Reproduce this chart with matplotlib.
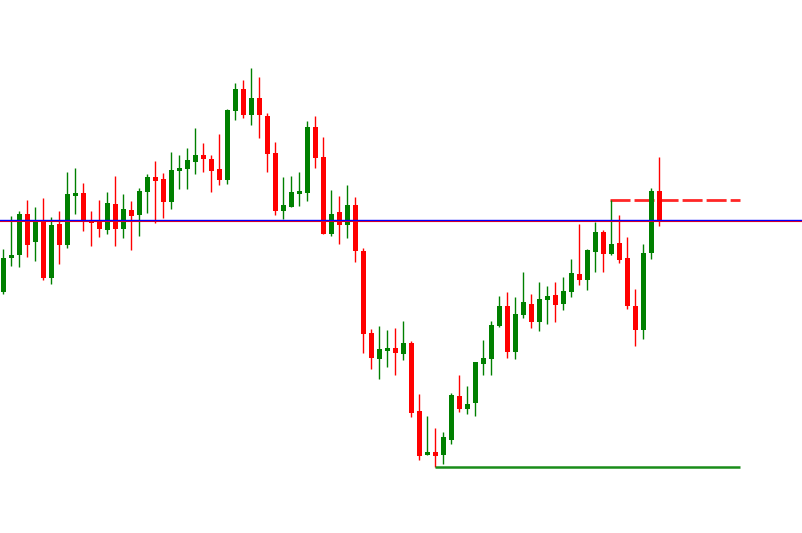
import matplotlib.pyplot as plt
import numpy as np

plt.rcParams['lines.scale_dashes'] = False

# candle data (price units)
opens = [241.3, 275.3, 278.3, 319, 291.3, 313, 255.3, 309, 288.3, 337.3,
         340, 313, 311, 303.3, 329, 304.3, 323, 318.3, 341, 356,
         354, 331, 362, 364, 371, 378, 374, 364, 353, 422,
         444, 418, 435, 417, 380, 322.3, 326.3, 339.3, 340.3, 406,
         376, 299.3, 321, 308.3, 328, 282, 200, 174.3, 182.3, 185,
         179, 190, 122, 78.3, 81, 78.3, 93.3, 137, 124.3, 130.3,
         169.3, 174.3, 207.3, 227, 181.3, 218.3, 229, 211.3, 233.3, 238,
         229.3, 241.3, 259, 253.3, 281.3, 301, 279.3, 290, 275, 227.3,
         203.3, 280.3, 342]
closes = [275.3, 277.7, 319, 288.3, 312, 255.3, 308, 288.3, 339, 340,
          312, 310.3, 304.3, 330, 304.3, 324, 317.3, 342, 356, 352.3,
          331, 363, 365, 373, 378, 374, 362, 353, 423, 444,
          418, 435, 418, 379, 322.3, 328, 341, 342, 406, 375.3,
          299.3, 319, 308.3, 328, 282.3, 199.3, 175.3, 184, 185, 180.3,
          190, 120.3, 77.3, 81, 77.3, 96, 138, 124.3, 129, 171,
          175, 208, 227, 181.3, 219, 231, 211.3, 234, 237, 228.3,
          242, 260, 253.3, 283, 301, 279.3, 289, 273.3, 227.3, 203.3,
          280, 342, 312.3]
highs = [284, 317, 322, 333, 326, 335, 316, 322, 361, 365,
         350, 322, 333, 341, 357, 339, 332, 345, 359, 372,
         360, 381, 378, 385, 405, 390, 378, 399, 424, 450,
         453, 465, 456, 420, 391, 356, 357, 361, 412, 417,
         396, 343, 337, 348, 336, 285.3, 204, 207, 203, 205,
         212, 192, 139, 117, 105, 101, 140, 158, 147, 171,
         193, 212, 237, 241, 236, 261, 239, 251, 247, 251,
         256, 274, 309, 284, 311, 303, 333, 318, 296, 244.3,
         289, 345, 376]
lows = [238.7, 267.3, 266.3, 276.3, 272.3, 253.3, 249.3, 269.3, 285.3, 319.3,
        302.3, 287.3, 296.3, 299.3, 287.3, 295.3, 283.3, 297.3, 320, 310.3,
        315.3, 324, 344, 344, 359, 361, 341, 348, 349, 413,
        415, 408, 395, 361, 318.3, 314.3, 326.3, 327.3, 332.3, 365.3,
        299.3, 297.3, 289.3, 295.3, 271.3, 180.3, 164.3, 154.3, 166.3, 158.3,
        173.3, 116.3, 73.3, 78.3, 66.3, 69.3, 89.3, 121.3, 119.3, 117.3,
        158.3, 158.3, 206.3, 175.3, 174.3, 215.3, 205.3, 202.3, 209.3, 211.3,
        223.3, 236.3, 248.3, 243.3, 261.3, 261.3, 278.3, 270.3, 224.3, 187.3,
        194.3, 274.3, 307.3]

level_blue = 313
level_red = 311.7
level_resist = 333
level_support = 66.5
resist_from = 76
support_from = 54
line_end = 92.1

x = np.arange(len(opens))
o = np.array(opens)
c = np.array(closes)
up = c >= o
cols = np.where(up, '#008000', '#ff0000')

fig = plt.figure(figsize=(8.03, 5.33), dpi=100)
ax = fig.add_axes([0, 0, 1, 1])
ax.axis('off')

# resistance dashes (behind the candles)
ax.hlines(level_resist, resist_from - 0.16, line_end, color='#ff0000', lw=2.0,
          alpha=0.85, linestyle=(0, (14.4, 2.9)), zorder=1)

# wicks and bodies
ax.vlines(x, lows, highs, color=cols, lw=1.0, zorder=2)
bottoms = np.minimum(o, c)
heights = np.abs(c - o)
heights = np.maximum(heights, 2.5)
ax.bar(x, heights, bottom=bottoms, width=0.62, color=cols, lw=0, zorder=3)

# support line
ax.hlines(level_support, support_from - 0.1, line_end, color='#008000', lw=1.8,
          alpha=0.9, zorder=4)

# horizontal level across the chart
ax.axhline(level_red, color='#ff0000', lw=0.8, zorder=5)
ax.axhline(level_blue, color='#0000ff', lw=1.0, zorder=6)

ax.set_xlim(-0.4125, 99.96)
ax.set_ylim(0, 533)

fig.savefig('out.png', dpi=100, facecolor='white')
